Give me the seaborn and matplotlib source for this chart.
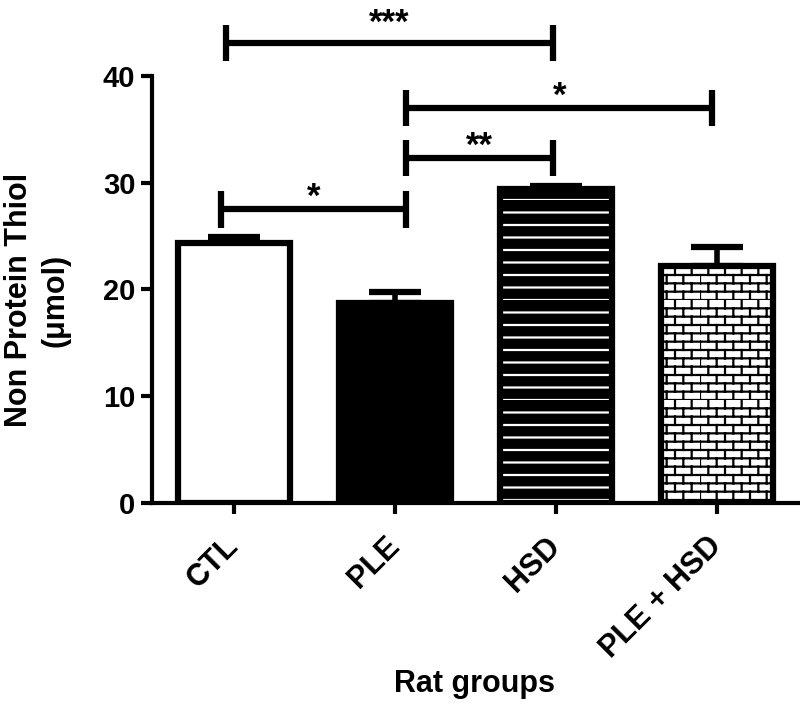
import warnings
import numpy as np
import pandas as pd
import matplotlib
matplotlib.use("Agg")
import matplotlib.pyplot as plt
from matplotlib import hatch as mhatch
from matplotlib.path import Path
import seaborn as sns

warnings.filterwarnings("ignore")

# Data
groups = ["CTL", "PLE", "HSD", "PLE + HSD"]
means = [24.4, 18.7, 29.4, 22.2]
sems = [0.5, 1.1, 0.3, 1.8]

# Significance brackets (group index positions, height, label)
bracket_x1 = [-0.08, 1.07, 1.07, -0.05]
bracket_x2 = [1.07, 1.98, 2.97, 1.98]
bracket_y = [27.5, 32.3, 37.0, 43.1]
bracket_label = ["*", "**", "*", "***"]


# custom hatches: 'h' = horizontal stripes, 'b' = brick wall
class StripeHatch(mhatch.HatchPatternBase):
    def __init__(self, hatch, density):
        self.num_lines = 8 * hatch.count('h')
        self.num_vertices = self.num_lines * 2

    def set_vertices_and_codes(self, vertices, codes):
        ys = np.arange(self.num_lines) / self.num_lines
        vertices[0::2, 0] = 0.0
        vertices[0::2, 1] = ys
        vertices[1::2, 0] = 1.0
        vertices[1::2, 1] = ys
        codes[0::2] = Path.MOVETO
        codes[1::2] = Path.LINETO


class BrickHatch(mhatch.HatchPatternBase):
    def __init__(self, hatch, density):
        self.rows = 12 * hatch.count('b')
        self.cols = 6
        self.num_vertices = (self.rows + self.rows * self.cols) * 2

    def set_vertices_and_codes(self, vertices, codes):
        segs = []
        for i in range(self.rows):
            y0 = i / self.rows
            y1 = (i + 1) / self.rows
            segs.append(((0, y0), (1, y0)))
            shift = 0.5 / self.cols if i % 2 else 0.0
            for j in range(self.cols):
                x = j / self.cols + shift
                segs.append(((x, y0), (x, y1)))
        vertices[:] = np.array(segs, dtype=float).reshape(-1, 2)
        codes[0::2] = Path.MOVETO
        codes[1::2] = Path.LINETO


mhatch._hatch_types.extend([StripeHatch, BrickHatch])

sns.set_style("ticks")
plt.rcParams['font.family'] = ['Liberation Sans', 'DejaVu Sans']
plt.rcParams['hatch.linewidth'] = 1.6
for key in ["text.color", "axes.labelcolor", "xtick.color", "ytick.color",
            "axes.edgecolor"]:
    plt.rcParams[key] = "black"

df = pd.DataFrame({"group": groups, "value": means})

fig = plt.figure(figsize=(8, 7.09), dpi=100)
ax = fig.add_axes([0.19, 0.2906, 0.809, 0.6022])

sns.barplot(data=df, x="group", y="value", color="white", width=0.7,
            edgecolor="black", linewidth=4.5, saturation=1, ax=ax)

faces = ["white", "black", "black", "white"]
hatches = [None, None, "h", "b"]
for p, fc, h in zip(ax.patches, faces, hatches):
    p.set_facecolor(fc)
    p.set_edgecolor("black")
    if h:
        p.set_hatch(h)
ax.patches[2]._hatch_color = (1, 1, 1, 1)

ax.errorbar(x=range(len(groups)), y=means, yerr=[[0] * len(sems), sems],
            fmt="none", ecolor="black", elinewidth=4, capsize=19, capthick=4.5,
            zorder=0.5)

# brackets
star_off = [0.2, 0.2, 0.2, 0.9]
for x1, x2, y, lab, off in zip(bracket_x1, bracket_x2, bracket_y,
                               bracket_label, star_off):
    ax.plot([x1, x2], [y, y], color="black", lw=4.5, clip_on=False,
            solid_capstyle="butt")
    for xx in (x1, x2):
        ax.plot([xx, xx], [y - 1.7, y + 1.7], color="black", lw=4.5,
                clip_on=False, solid_capstyle="butt")
    ax.text((x1 + x2) / 2, y + off, lab, ha="center", va="baseline",
            fontsize=25, fontweight="bold", clip_on=False)

ax.set_xlim(-0.51, 3.51)
ax.set_ylim(0, 40)
ax.set_yticks([0, 10, 20, 30, 40])
sns.despine(ax=ax)
for s in ["left", "bottom"]:
    ax.spines[s].set_linewidth(3)
ax.tick_params(axis="both", length=8, width=3, labelsize=21, pad=4)
ax.tick_params(axis="x", pad=20, labelsize=22)
plt.setp(ax.get_yticklabels(), fontweight="bold")
plt.setp(ax.get_xticklabels(), fontweight="bold", rotation=45, ha="right",
         va="center", rotation_mode="anchor")

ax.set_ylabel("Non Protein Thiol\n(\u03bcmol)", fontsize=22, fontweight="bold",
              linespacing=1.3)
ax.yaxis.set_label_coords(-0.126, 0.475)
ax.set_xlabel("Rat groups", fontsize=22, fontweight="bold")
ax.xaxis.set_label_coords(0.499, -0.39)

fig.savefig("out.png", dpi=100, facecolor="white")
